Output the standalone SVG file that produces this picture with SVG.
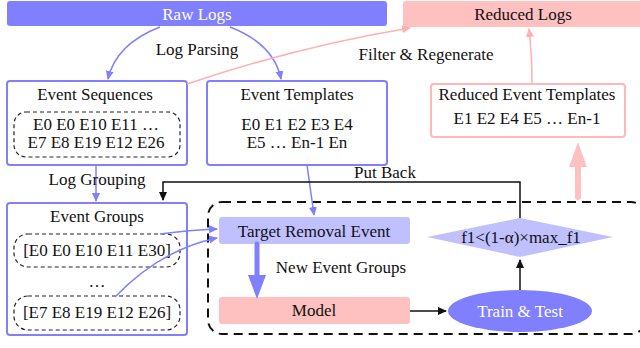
<svg xmlns="http://www.w3.org/2000/svg" width="640" height="348" viewBox="0 0 640 348">
<style>
text{font-family:"Liberation Serif","Times New Roman",serif;font-size:17px;fill:#111;text-anchor:middle}
.w{fill:#fff}
.bbox{fill:#fff;stroke:#8080ff;stroke-width:2}
.pbox{fill:#fff;stroke:#ffb8b8;stroke-width:2}
.dash{fill:none;stroke:#222;stroke-width:1.2;stroke-dasharray:4,3}
.bl{fill:none;stroke:#8080ff;stroke-width:1.5}
.pl{fill:none;stroke:#ffb0b0;stroke-width:1.5}
.kl{fill:none;stroke:#111;stroke-width:1.5}
</style>
<defs>
<marker id="ab" markerWidth="10" markerHeight="10" refX="8" refY="4" orient="auto" markerUnits="userSpaceOnUse"><path d="M0,0 L9,4 L0,8 z" fill="#8080ff"/></marker>
<marker id="ap" markerWidth="10" markerHeight="10" refX="8" refY="4" orient="auto" markerUnits="userSpaceOnUse"><path d="M0,0 L9,4 L0,8 z" fill="#ffb0b0"/></marker>
<marker id="ak" markerWidth="10" markerHeight="10" refX="8" refY="4" orient="auto" markerUnits="userSpaceOnUse"><path d="M0,0 L9,4 L0,8 z" fill="#111"/></marker>
</defs>

<g id="raw-logs"><rect x="7" y="1" width="380" height="25" rx="3" fill="#8080ff"/><text class="w" x="197" y="20">Raw Logs</text></g>
<g id="reduced-logs"><rect x="403" y="1" width="242" height="26" rx="3" fill="#ffc0c0"/><text x="523" y="20">Reduced Logs</text></g>

<g id="event-sequences"><rect class="bbox" x="7" y="81" width="180" height="84" rx="3"/><text x="95" y="100">Event Sequences</text>
<rect class="dash" x="14" y="112" width="166" height="45" rx="12"/><text x="96" y="130">E0 E0 E10 E11 …</text><text x="96" y="148">E7 E8 E19 E12 E26</text></g>

<g id="event-templates"><rect class="bbox" x="207" y="81" width="180" height="84" rx="3"/><text x="297" y="100">Event Templates</text><text x="297" y="130">E0 E1 E2 E3 E4</text><text x="297" y="148">E5 … En-1 En</text></g>

<g id="reduced-event-templates"><rect class="pbox" x="431" y="84" width="194" height="53" rx="3"/><text x="527" y="100">Reduced Event Templates</text><text x="527" y="124">E1 E2 E4 E5 … En-1</text></g>

<g id="event-groups"><rect class="bbox" x="7" y="203" width="180" height="132" rx="3"/><text x="97" y="222">Event Groups</text>
<rect class="dash" x="14" y="234" width="166" height="33" rx="14"/><text x="97" y="256">[E0 E0 E10 E11 E30]</text>
<text x="97" y="287">…</text>
<rect class="dash" x="14" y="296" width="166" height="34" rx="14"/><text x="97" y="318">[E7 E8 E19 E12 E26]</text></g>

<g id="loop-box"><rect x="208" y="202" width="437" height="132" rx="14" fill="none" stroke="#111" stroke-width="2" stroke-dasharray="9,6"/></g>

<g id="target-removal"><rect x="219" y="217" width="191" height="27" rx="3" fill="#c0c0ff"/><text x="314" y="237">Target Removal Event</text></g>
<g id="model"><rect x="219" y="297" width="191" height="27" rx="3" fill="#ffc0c0"/><text x="314" y="316">Model</text></g>
<g id="train-test"><ellipse cx="520" cy="311" rx="72" ry="21" fill="#8080ff"/><text class="w" x="520" y="317">Train &amp; Test</text></g>
<g id="condition"><polygon points="427,237 520,218 613,237 520,257" fill="#c0c0ff"/><text x="521" y="243">f1&lt;(1-α)×max_f1</text></g>

<g id="connectors">
<path class="bl" d="M160,27 Q116,44 108,79" marker-end="url(#ab)"/>
<path class="bl" d="M230,27 Q274,44 281,79" marker-end="url(#ab)"/>
<text x="197" y="55">Log Parsing</text>
<path class="pl" d="M187,84 Q300,46 410,28" marker-end="url(#ap)"/>
<text x="426" y="60">Filter &amp; Regenerate</text>
<path class="pl" d="M532,83 Q532,55 529,29" marker-end="url(#ap)"/>
<path class="bl" d="M96,165 L96,201" marker-end="url(#ab)"/>
<text x="97" y="185">Log Grouping</text>
<path class="bl" d="M307,165 L314,215" marker-end="url(#ab)"/>
<path class="bl" d="M160,234 Q190,230 217,229" marker-end="url(#ab)"/>
<path class="bl" d="M115,297 Q160,250 217,238" marker-end="url(#ab)"/>
<path d="M257,244 L257,278" stroke="#8080ff" stroke-width="5" stroke-linecap="round" fill="none"/>
<polygon points="248,275 266,275 257,299" fill="#8080ff"/>
<text x="341" y="273">New Event Groups</text>
<path class="kl" d="M410,311 L446,311" marker-end="url(#ak)"/>
<path class="kl" d="M520,290 L520,260" marker-end="url(#ak)"/>
<path class="kl" d="M520,218 L520,182 L163,182 L163,200" marker-end="url(#ak)"/>
<text x="385" y="178">Put Back</text>
<path d="M578,197 L578,165" stroke="#ffc0c0" stroke-width="6" stroke-linecap="round" fill="none"/>
<polygon points="569,167 587,167 578,142" fill="#ffc0c0"/>
</g>
</svg>
